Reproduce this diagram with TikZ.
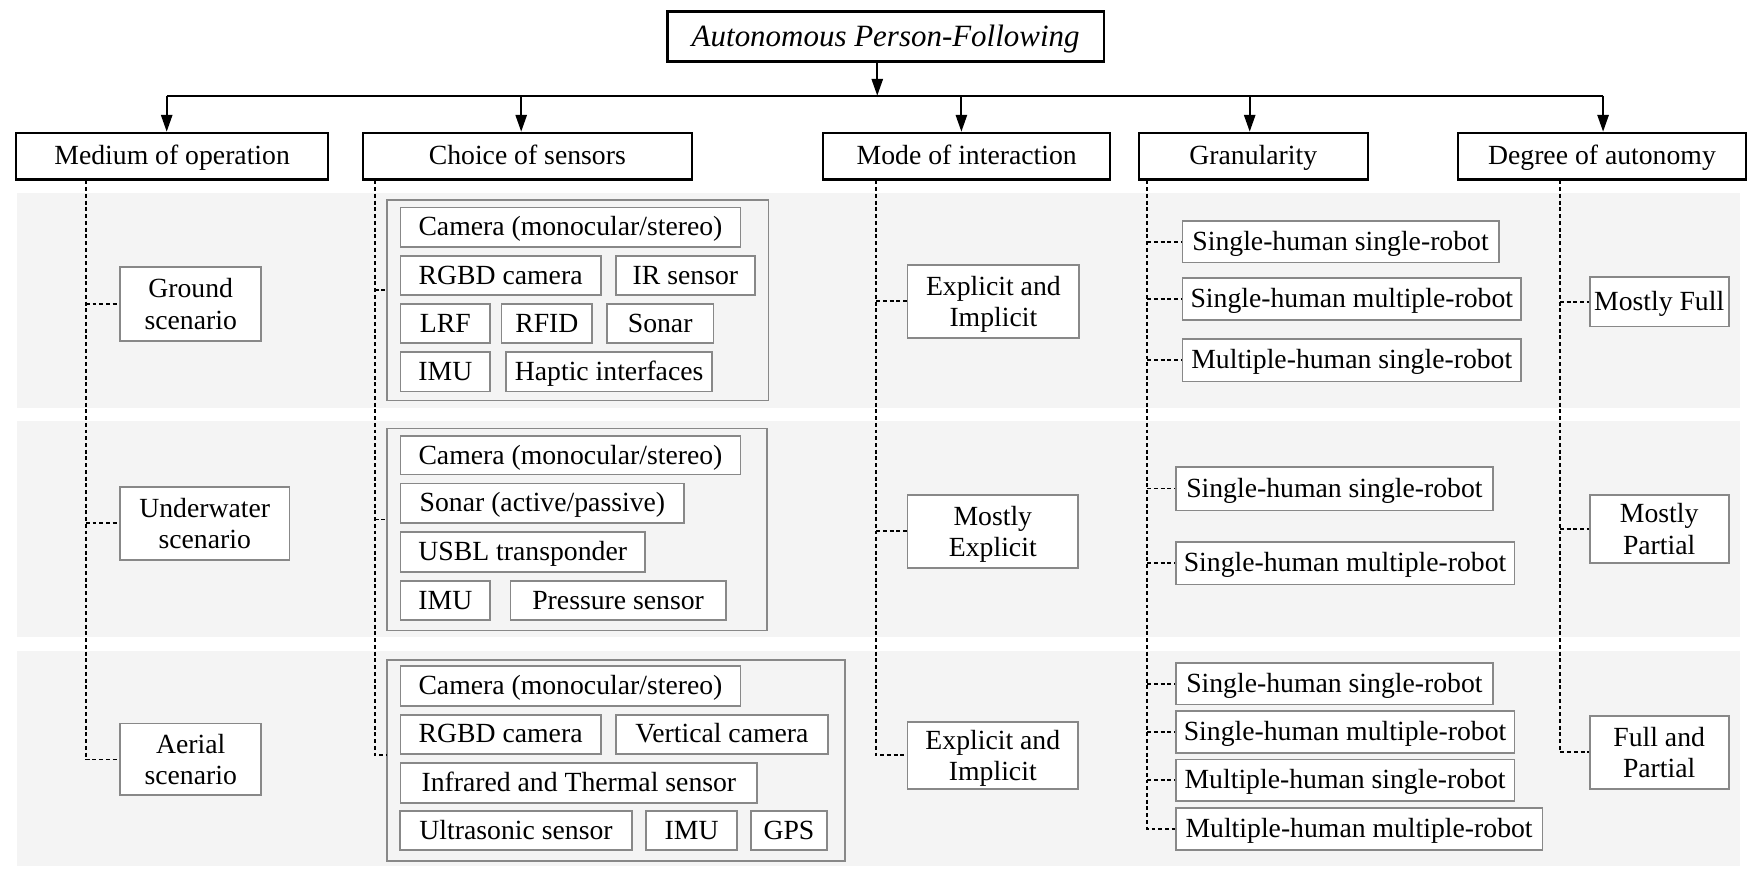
\documentclass[tikz,border=0pt]{standalone}
\usepackage{fontspec}
\setmainfont{Liberation Serif}
\usetikzlibrary{arrows.meta}
\definecolor{bandgray}{HTML}{F4F4F4}
\definecolor{boxgray}{HTML}{888888}
\newcommand\mkbox[7]{%
  \pgfmathsetmacro\mkbw{#4-#2}\pgfmathsetmacro\mkbh{#5-#3}%
  \pgfmathsetmacro\mkcx{(#2+#4)/2}\pgfmathsetmacro\mkcy{(#3+#5)/2}%
  \node[#6,minimum width=\mkbw pt,minimum height=\mkbh pt] (#1) at (\mkcx,\mkcy) {#7};}
\begin{document}
\begin{tikzpicture}[x=1pt,y=-1pt,
  txt/.style={font=\fontsize{24.7}{28}\selectfont, align=center, inner sep=0pt},
  oneline/.style={text height=18.5pt, text depth=3pt},
  mainbox/.style={txt, oneline, draw=black, line width=1.8pt, fill=white},
  titlebox/.style={mainbox, line width=2.4pt, font=\fontsize{27.6}{32}\selectfont\itshape, text height=20.7pt, text depth=3.3pt},
  subbox/.style={txt, draw=boxgray, line width=1.6pt, fill=white},
  sub2/.style={subbox, text depth=0pt},
  sub1/.style={subbox, oneline},
  grpbox/.style={draw=boxgray, line width=1.6pt, inner sep=0pt},
  band/.style={fill=bandgray, draw=none},
  arr/.style={line width=1.8pt, -{Triangle[length=15pt,width=10pt]}},
  bus/.style={line width=1.8pt},
  dot/.style={line width=1.5pt, dash pattern=on 3.5pt off 2.5pt}]
\useasboundingbox (0,0) rectangle (1568,784);
\fill[white] (0,0) rectangle (1568,784);
% bands
\fill[band] (15,172) rectangle (1551,364);
\fill[band] (15,375) rectangle (1551,568);
\fill[band] (15,580) rectangle (1551,772);

% title and level 1
\mkbox{title}{595}{10.4}{984}{55}{titlebox}{Autonomous Person-Following}
\mkbox{med}{14.3}{118.3}{292.6}{160}{mainbox}{Medium of operation}
\mkbox{cho}{323.5}{118.3}{616.6}{160}{mainbox}{Choice of sensors}
\mkbox{mod}{734}{118.3}{989.5}{160}{mainbox}{Mode of interaction}
\mkbox{gra}{1015}{118.3}{1219.4}{160}{mainbox}{Granularity}
\mkbox{deg}{1300}{118.3}{1556}{160}{mainbox}{Degree of autonomy}

% medium
\mkbox{gro}{107}{238}{233}{304}{sub2}{Ground\\scenario}
\mkbox{und}{107}{434}{258}{499}{sub2}{Underwater\\scenario}
\mkbox{aer}{107}{645}{233}{709}{sub2}{Aerial\\scenario}

% sensors group 1
\mkbox{g1}{345}{178}{685}{357}{grpbox}{}
\mkbox{g1a}{357}{185}{660}{220}{sub1}{Camera (monocular/stereo)}
\mkbox{g1b}{357}{228}{535.5}{263}{sub1}{RGBD camera}
\mkbox{g1c}{549}{228}{673}{263}{sub1}{IR sensor}
\mkbox{g1d}{357}{271}{437}{306}{sub1}{LRF}
\mkbox{g1e}{447}{271}{528}{306}{sub1}{RFID}
\mkbox{g1f}{541}{271}{636}{306}{sub1}{Sonar}
\mkbox{g1g}{357}{314}{437}{349}{sub1}{IMU}
\mkbox{g1h}{451}{314}{635}{349}{sub1}{Haptic interfaces}
% sensors group 2
\mkbox{g2}{345}{382}{684}{562}{grpbox}{}
\mkbox{g2a}{357}{389}{660}{423}{sub1}{Camera (monocular/stereo)}
\mkbox{g2b}{357}{431}{610}{466}{sub1}{Sonar (active/passive)}
\mkbox{g2c}{357}{474}{575}{510}{sub1}{USBL transponder}
\mkbox{g2d}{357}{518}{437}{553}{sub1}{IMU}
\mkbox{g2e}{455}{518}{647}{553}{sub1}{Pressure sensor}
% sensors group 3
\mkbox{g3}{345}{588}{753}{767.5}{grpbox}{}
\mkbox{g3a}{357}{594}{660}{629}{sub1}{Camera (monocular/stereo)}
\mkbox{g3b}{357}{637}{535.5}{672}{sub1}{RGBD camera}
\mkbox{g3c}{549}{637}{738}{672}{sub1}{Vertical camera}
\mkbox{g3d}{357}{680}{675}{716}{sub1}{Infrared and Thermal sensor}
\mkbox{g3e}{356.5}{723}{563.5}{758}{sub1}{Ultrasonic sensor}
\mkbox{g3f}{576}{723}{657}{758}{sub1}{IMU}
\mkbox{g3g}{669.5}{723}{737}{758}{sub1}{GPS}

% mode of interaction
\mkbox{ie1}{809}{236}{962}{301}{sub2}{Explicit and\\Implicit}
\mkbox{ie2}{809}{441}{961}{506}{sub2}{Mostly\\Explicit}
\mkbox{ie3}{809}{643.5}{961}{703}{sub2}{Explicit and\\Implicit}

% granularity
\mkbox{r11}{1054}{197}{1336}{234}{sub1}{Single-human single-robot}
\mkbox{r12}{1054}{248}{1356}{285}{sub1}{Single-human multiple-robot}
\mkbox{r13}{1054}{302}{1356}{340}{sub1}{Multiple-human single-robot}
\mkbox{r21}{1048}{416}{1331}{455}{sub1}{Single-human single-robot}
\mkbox{r22}{1048}{483}{1350}{521}{sub1}{Single-human multiple-robot}
\mkbox{r31}{1048}{591}{1331}{628}{sub1}{Single-human single-robot}
\mkbox{r32}{1048}{634}{1350}{671}{sub1}{Single-human multiple-robot}
\mkbox{r33}{1048}{677}{1350}{714}{sub1}{Multiple-human single-robot}
\mkbox{r34}{1048}{720}{1375}{758}{sub1}{Multiple-human multiple-robot}

% degree of autonomy
\mkbox{d1}{1417}{247}{1541}{291}{sub1}{Mostly Full}
\mkbox{d2}{1417}{441}{1541}{502}{sub2}{Mostly\\Partial}
\mkbox{d3}{1417}{638}{1541}{703}{sub2}{Full and\\Partial}

% arrows
\coordinate (tb) at (782,85.3);
\coordinate (b1) at (148.6,85.3);
\coordinate (b2) at (464.6,85.3);
\coordinate (b3) at (857,85.3);
\coordinate (b4) at (1114,85.3);
\coordinate (b5) at (1429,85.3);
\draw[bus] (b1) -- (b5);
\draw[arr] (title.south -| tb) -- (tb);
\draw[arr] (b1) -- (b1 |- med.north);
\draw[arr] (b2) -- (b2 |- cho.north);
\draw[arr] (b3) -- (b3 |- mod.north);
\draw[arr] (b4) -- (b4 |- gra.north);
\draw[arr] (b5) -- (b5 |- deg.north);

% dotted connectors: medium
\coordinate (mx) at (76.5,0);
\draw[dot] (med.south -| mx) -- (mx |- aer.west) -- (aer.west);
\draw[dot] (mx |- gro.west) -- (gro.west);
\draw[dot] (mx |- und.west) -- (und.west);
% sensors
\coordinate (c1) at (334,258.6);
\coordinate (c2) at (334,463);
\coordinate (c3) at (334,673);
\draw[dot] (cho.south -| c1) -- (c3) -- (c3 -| g3.west);
\draw[dot] (c1) -- (c1 -| g1.west);
\draw[dot] (c2) -- (c2 -| g2.west);
% mode
\coordinate (mdx) at (781,0);
\draw[dot] (mod.south -| mdx) -- (mdx |- ie3.west) -- (ie3.west);
\draw[dot] (mdx |- ie1.west) -- (ie1.west);
\draw[dot] (mdx |- ie2.west) -- (ie2.west);
% granularity
\coordinate (gx) at (1022.6,0);
\draw[dot] (gra.south -| gx) -- (gx |- r34.west) -- (r34.west);
\foreach \r in {r11,r12,r13,r21,r22,r31,r32,r33}
  \draw[dot] (gx |- \r.west) -- (\r.west);
% degree
\coordinate (dx) at (1390.6,0);
\draw[dot] (deg.south -| dx) -- (dx |- d3.west) -- (d3.west);
\draw[dot] (dx |- d1.west) -- (d1.west);
\draw[dot] (dx |- d2.west) -- (d2.west);
\end{tikzpicture}
\end{document}
